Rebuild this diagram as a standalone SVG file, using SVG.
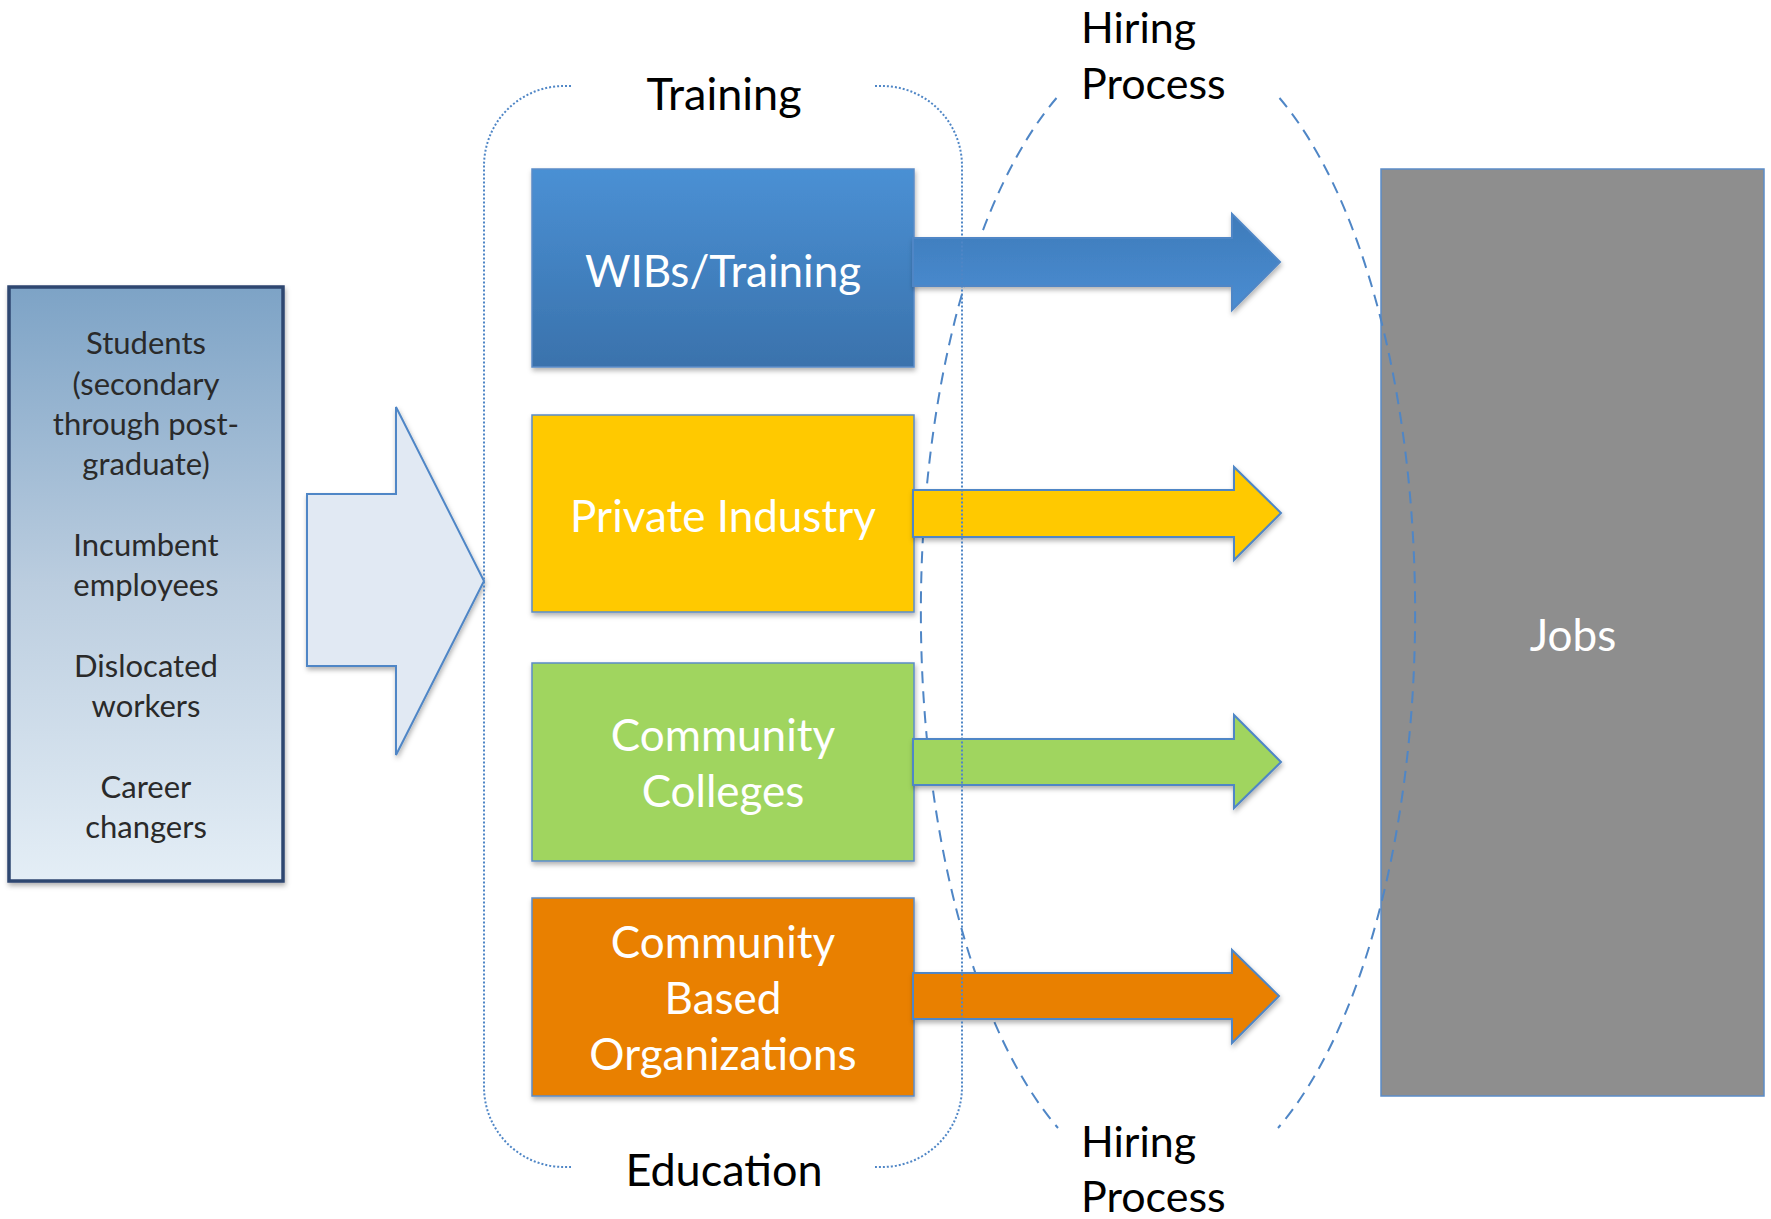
<svg xmlns="http://www.w3.org/2000/svg" width="1771" height="1219" viewBox="0 0 1771 1219">
<style>
.lbl{font-family:Lato,"Liberation Sans",sans-serif;fill:#000;font-size:43px}
.lbl2{font-family:Lato,"Liberation Sans",sans-serif;fill:#000;font-size:45px;text-anchor:middle}
.box{stroke:#5B8CC8;stroke-width:1.5}
.btxt{font-family:Lato,"Liberation Sans",sans-serif;fill:#fff;font-size:44px;text-anchor:middle}
.ltxt{font-family:Lato,"Liberation Sans",sans-serif;fill:#2a2a2a;font-size:31px;text-anchor:middle}
.arr{stroke:#4F86C6;stroke-width:2;stroke-linejoin:miter}
</style>
<defs>
<linearGradient id="gLeft" x1="0" y1="0" x2="0" y2="1">
<stop offset="0" stop-color="#7DA3C6"/><stop offset="0.5" stop-color="#BBCDDF"/><stop offset="1" stop-color="#E4EEF6"/>
</linearGradient>
<linearGradient id="gBlue" x1="0" y1="0" x2="0" y2="1">
<stop offset="0" stop-color="#4A90D4"/><stop offset="1" stop-color="#3A72AC"/>
</linearGradient>
<linearGradient id="gBlueArr" x1="0" y1="0" x2="0" y2="1">
<stop offset="0" stop-color="#3E7BBA"/><stop offset="1" stop-color="#4A8DD2"/>
</linearGradient>
<filter id="sh" x="-10%" y="-10%" width="120%" height="130%">
<feDropShadow dx="1" dy="3" stdDeviation="2.5" flood-color="#000" flood-opacity="0.3"/>
</filter>
</defs>

<g id="sources">
<rect x="9" y="287" width="274" height="594" fill="url(#gLeft)" stroke="#2E4670" stroke-width="3.5" filter="url(#sh)"/>
<text class="ltxt" x="146" y="354">Students</text>
<text class="ltxt" x="146" y="395">(secondary</text>
<text class="ltxt" x="146" y="435">through post-</text>
<text class="ltxt" x="146" y="475">graduate)</text>
<text class="ltxt" x="146" y="556">Incumbent</text>
<text class="ltxt" x="146" y="596">employees</text>
<text class="ltxt" x="146" y="677">Dislocated</text>
<text class="ltxt" x="146" y="717">workers</text>
<text class="ltxt" x="146" y="798">Career</text>
<text class="ltxt" x="146" y="838">changers</text>
</g>

<g id="input-arrow">
<polygon points="307,494 396,494 396,407 484,581 396,755 396,666 307,666" fill="#E1E9F3" stroke="#4F86C6" stroke-width="2" filter="url(#sh)"/>
</g>

<g id="jobs">
<rect x="1381" y="169" width="383" height="927" fill="#8E8E8E" stroke="#5B8CC8" stroke-width="1.5"/>
<text class="btxt" x="1573" y="651">Jobs</text>
</g>

<g id="hiring-process">
<path d="M1056.5 98 A247 576 0 0 0 1058 1128 M1279.5 98 A247 576 0 0 1 1278 1128" fill="none" stroke="#4F86C6" stroke-width="2" stroke-dasharray="12 8"/>
<text class="lbl" x="1081" y="43">Hiring</text>
<text class="lbl" x="1081" y="99">Process</text>
<text class="lbl" x="1081" y="1157">Hiring</text>
<text class="lbl" x="1081" y="1212">Process</text>
</g>

<g id="wibs">
<rect class="box" x="532" y="169" width="382" height="198" fill="url(#gBlue)" filter="url(#sh)"/>
<text class="btxt" x="723" y="287">WIBs/Training</text>
</g>
<g id="private-industry">
<rect class="box" x="532" y="415" width="382" height="197" fill="#FFC901" filter="url(#sh)"/>
<text class="btxt" x="723" y="532">Private Industry</text>
</g>
<g id="community-colleges">
<rect class="box" x="532" y="663" width="382" height="198" fill="#A0D55F" filter="url(#sh)"/>
<text class="btxt" x="723" y="751">Community</text>
<text class="btxt" x="723" y="807">Colleges</text>
</g>
<g id="cbo">
<rect class="box" x="532" y="898" width="382" height="198" fill="#E98006" filter="url(#sh)"/>
<text class="btxt" x="723" y="958">Community</text>
<text class="btxt" x="723" y="1014">Based</text>
<text class="btxt" x="723" y="1070">Organizations</text>
</g>

<g id="connectors">
<polygon class="arr" points="913,238 1232,238 1232,214 1280,262 1232,310 1232,286 913,286" fill="url(#gBlueArr)" stroke="none" filter="url(#sh)"/>
<polygon class="arr" points="913,490 1234,490 1234,467 1281,513 1234,560 1234,537 913,537" fill="#FFC901" filter="url(#sh)"/>
<polygon class="arr" points="913,739 1234,739 1234,715 1281,762 1234,808 1234,785 913,785" fill="#A0D55F" filter="url(#sh)"/>
<polygon class="arr" points="913,973 1232,973 1232,950 1279,996 1232,1043 1232,1019 913,1019" fill="#E98006" filter="url(#sh)"/>
</g>

<g id="training-education">
<path d="M571 86 H564 A80 80 0 0 0 484 166 V1087 A80 80 0 0 0 564 1167 H571 M875 86 H882 A80 80 0 0 1 962 166 V1087 A80 80 0 0 1 882 1167 H875" fill="none" stroke="#4F86C6" stroke-width="2" stroke-dasharray="2 2"/>
<text class="lbl2" x="724" y="110">Training</text>
<text class="lbl2" x="724" y="1186">Education</text>
</g>
</svg>
